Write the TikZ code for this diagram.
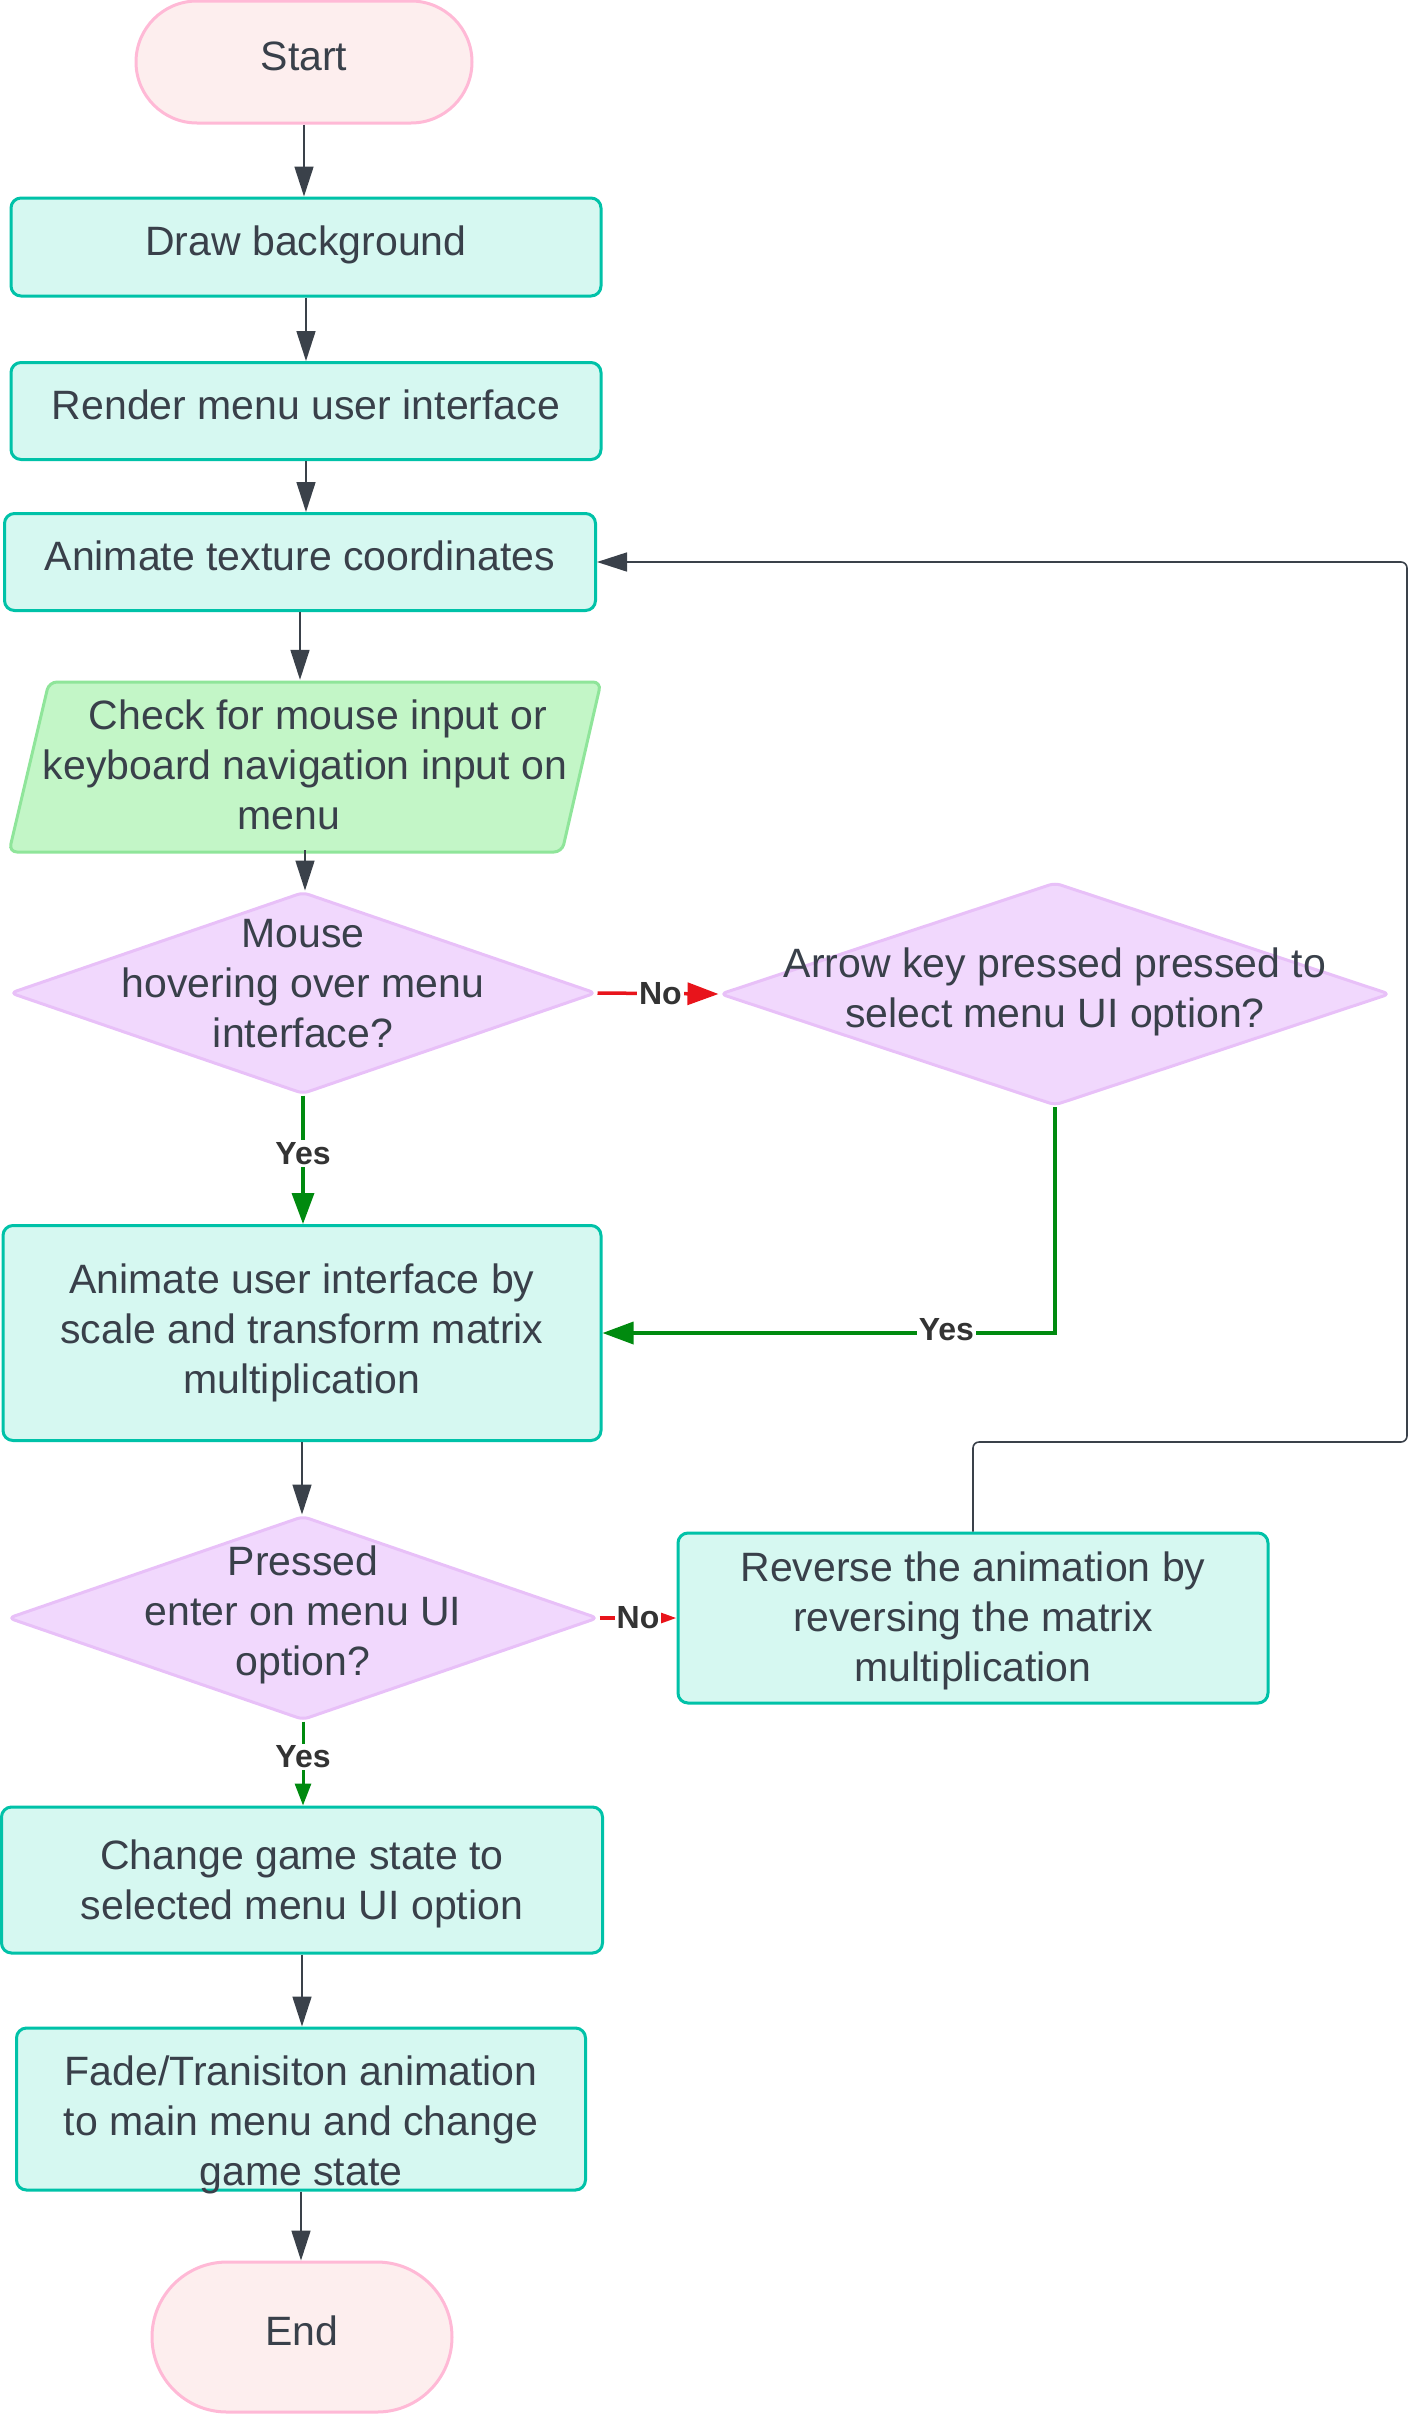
\documentclass[tikz,border=0pt]{standalone}
\usepackage{fontspec}
\setmainfont{Liberation Sans}
\usetikzlibrary{arrows.meta,shapes.geometric}
\definecolor{txtc}{HTML}{39404A}
\definecolor{lblc}{HTML}{333333}
\definecolor{termd}{HTML}{FFB9D6}
\definecolor{termf}{HTML}{FDEEEE}
\definecolor{procd}{HTML}{00C2A8}
\definecolor{procf}{HTML}{D6F8F1}
\definecolor{iod}{HTML}{8FE59A}
\definecolor{iof}{HTML}{C3F6C7}
\definecolor{decd}{HTML}{E8C0F8}
\definecolor{decf}{HTML}{F1D8FD}
\definecolor{grayc}{HTML}{3A414A}
\definecolor{greenc}{HTML}{008A0F}
\definecolor{redc}{HTML}{E8141B}
\tikzset{
  bigfont/.style={font=\fontsize{41pt}{50pt}\selectfont},
  base/.style={draw, line width=3pt, align=center, inner sep=0pt, text=txtc, bigfont},
  term/.style={base, draw=termd, fill=termf},
  proc/.style={base, draw=procd, fill=procf, rounded corners=10pt},
  oneline/.style={text height=29pt, text depth=12pt},
  dec/.style={diamond, draw=decd, fill=decf, line width=3pt, inner sep=0pt, rounded corners=6pt},
  txt/.style={align=center, inner sep=0pt, text=txtc, bigfont},
  garr/.style={draw=grayc, line width=1.6pt, -{Triangle[length=30pt,width=19pt]}},
  yesarr/.style={draw=greenc, line width=3.5pt, -{Triangle[length=31pt,width=22pt]}},
  noarr/.style={draw=redc, line width=3.5pt, -{Triangle[length=31pt,width=22pt]}},
  lbl/.style={fill=white, inner sep=2pt, text=lblc, font=\fontsize{32pt}{36pt}\selectfont\bfseries},
}
\begin{document}
\begin{tikzpicture}[x=1pt,y=-1pt]
\useasboundingbox (0,0) rectangle (1410,2415);

% nodes
\node[term, oneline, minimum width=336pt, minimum height=122pt, rounded corners=61pt] (start) at (304,62) {Start};
\node[proc, oneline, minimum width=590pt, minimum height=98pt] (draw) at (306,247) {Draw background};
\node[proc, oneline, minimum width=590pt, minimum height=97pt] (render) at (306,411) {Render menu user interface};
\node[proc, oneline, minimum width=591pt, minimum height=97pt] (anim) at (300,562) {Animate texture coordinates};

% parallelogram
\draw[draw=iod, fill=iof, line width=3pt, rounded corners=8pt]
  (49,682) -- (601,682) -- (562,852) -- (9,852) -- cycle;
\node[txt, minimum width=552pt, minimum height=170pt] (check) at (305,765)
  {\hspace*{26pt}Check for mouse input or\\keyboard navigation input on\\menu\hspace*{32pt}};

\node[dec, minimum width=586pt, minimum height=202pt] (d1) at (303,993) {};
\node[txt] (d1t) at (303,984) {Mouse\\hovering over menu\\interface?};

\node[dec, minimum width=670pt, minimum height=223pt] (d2) at (1055,994) {};
\node[txt] (d2t) at (1055,992) {Arrow key pressed pressed to\\select menu UI option?};

\node[proc, minimum width=598pt, minimum height=215pt] (animui) at (302,1333) {Animate user interface by\\scale and transform matrix\\multiplication};

\node[dec, minimum width=590pt, minimum height=204pt] (d3) at (303,1618) {};
\node[txt] (d3t) at (303,1615) {Pressed\\enter on menu UI\\option?};

\node[proc, text depth=3pt, minimum width=590pt, minimum height=170pt] (rev) at (973,1618) {Reverse the animation by\\reversing the matrix\\multiplication};

\node[proc, text depth=0pt, minimum width=601pt, minimum height=146pt] (change) at (302,1880) {Change game state to\\selected menu UI option};

\node[proc, minimum width=569pt, minimum height=162pt] (fade) at (301,2109) {};
\node[txt] (fadet) at (301,2125) {Fade/Tranisiton animation\\to main menu and change\\game state};

\node[term, oneline, minimum width=300pt, minimum height=150pt, rounded corners=75pt] (end) at (302,2337) {End};

% connectors
\draw[garr] (start.south) -- (start.south |- draw.north);
\draw[garr] (draw.south) -- (draw.south |- render.north);
\draw[garr] (render.south) -- (render.south |- anim.north);
\draw[garr] (anim.south) -- (anim.south |- check.north);
\draw[garr] (check.south) -- (check.south |- d1.north);

\draw[noarr] (d1.east) -- (d2.west) node[lbl, pos=0.52] {No};
\draw[yesarr] (d1.south) -- (d1.south |- animui.north) node[lbl, pos=0.45] {Yes};
\draw[yesarr] (d2.south) |- (animui.east) node[lbl, pos=0.62, yshift=3pt] {Yes};

\draw[garr] (animui.south) -- (animui.south |- d3.north);
\draw[noarr, -{Triangle[length=20pt,width=13pt]}] (d3.east) -- (rev.west) node[lbl, pos=0.5] {No};
\draw[yesarr, line width=3pt, -{Triangle[length=22pt,width=16pt]}] (d3.south) -- (d3.south |- change.north) node[lbl, pos=0.42] {Yes};

\coordinate (loopA) at (1407,1442);
\coordinate (loopB) at (1407,562);
\draw[garr, rounded corners=6pt] (rev.north) |- (loopA) -- (loopB) -- (anim.east);

\draw[garr] (change.south) -- (change.south |- fade.north);
\draw[garr] (fade.south) -- (fade.south |- end.north);
\end{tikzpicture}
\end{document}
